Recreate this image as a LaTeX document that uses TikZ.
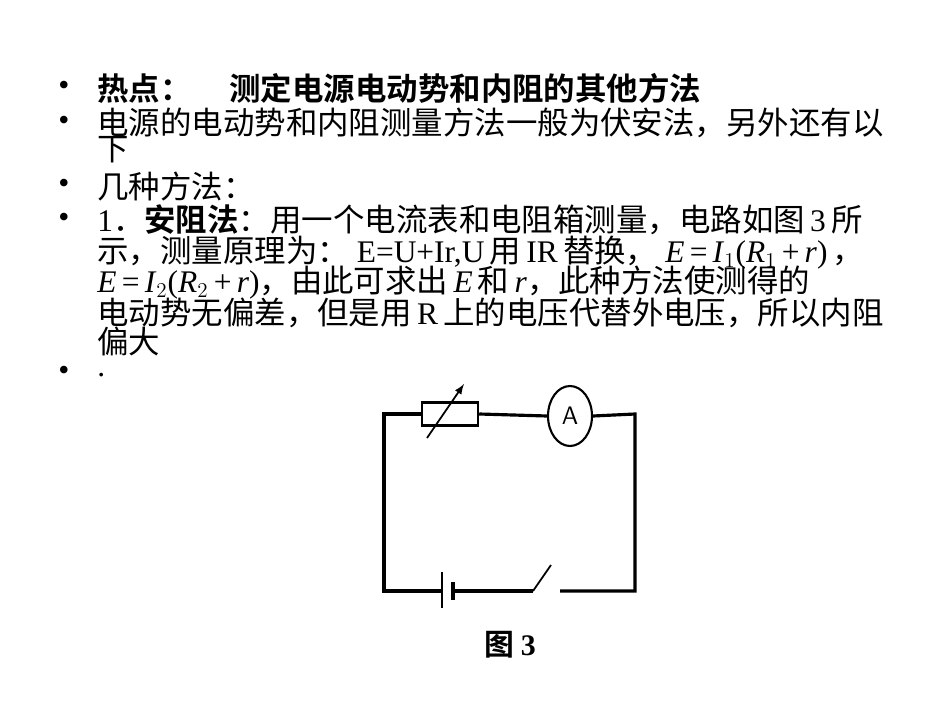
\documentclass[tikz,border=0pt]{standalone}
\usetikzlibrary{shapes.geometric}
\usepackage{fontspec}
\setmainfont{Liberation Serif}
\newfontfamily\cjk{Noto Sans CJK SC}
\newfontfamily\cjkb{Noto Sans CJK SC Bold}
\begin{document}
\begin{tikzpicture}[x=0.02cm,y=-0.02cm,
  txt/.style={anchor=west,inner sep=0,font=\fontsize{17.9}{19}\selectfont},
  bul/.style={inner sep=0,font=\fontsize{18}{20}\selectfont},
  cwire/.style={line width=1.8pt}]
\useasboundingbox (0,0) rectangle (950,713);
\foreach \y/\n in {88/b1,123/b2,186/b3,220/b4,373/b5} \node[bul] (\n) at (64,\y) {•};
\node[txt] (l1) at (97,88) {\cjkb 热点：\hspace{1.2em}测定电源电动势和内阻的其他方法};
\node[txt] (l2) at (97,123) {\cjk 电源的电动势和内阻测量方法一般为伏安法，另外还有以};
\node[txt] (l3) at (97,150) {\cjk 下};
\node[txt] (l4) at (97,186) {\cjk 几种方法：};
\node[txt] (l5) at (97,220) {1\cjk ．\cjkb 安阻法\cjk ：用一个电流表和电阻箱测量，电路如图\,\rmfamily 3\,\cjk 所};
\node[txt] (l6) at (97,253) {\cjk 示，测量原理为：\rmfamily\ E=U+Ir,U\,\cjk 用\,\rmfamily IR\,\cjk 替换，\rmfamily\ \textit{E}\,=\,\textit{I}$_1$(\textit{R}$_1$\,+\,\textit{r})\,\cjk ，};
\node[txt] (l7) at (97,283) {\textit{E}\,=\,\textit{I}$_2$(\textit{R}$_2$\,+\,\textit{r})\cjk ，由此可求出\,\rmfamily\textit{E}\,\cjk 和\,\rmfamily\textit{r}\cjk ，此种方法使测得的};
\node[txt] (l8) at (97,313) {\cjk 电动势无偏差，但是用\,\rmfamily R\,\cjk 上的电压代替外电压，所以内阻};
\node[txt] (l9) at (97,341) {\cjk 偏大};
\node[txt] (l10) at (97,375) {.};
% circuit
\coordinate (tl) at (384,414); \coordinate (tr) at (635,414);
\coordinate (bl) at (384,591); \coordinate (br) at (635,591);
\node[draw,line width=1.4pt,minimum width=1.12cm,minimum height=0.46cm,inner sep=0] (R) at (450,414) {};
\node[draw,ellipse,line width=1.2pt,minimum width=0.88cm,minimum height=1.2cm,inner sep=0,font=\sffamily\Large] (A) at (570,416) {A};
\coordinate (b1p) at (442,591); \coordinate (b2p) at (453,591);
\coordinate (s1) at (533,591); \coordinate (s2) at (560,591);
\draw[cwire] (R.west) -- (tl) -- (bl) -- (b1p);
\draw[cwire] (R.east) -- (A.west);
\draw[cwire] (A.east) -- (tr) -- (br) -- (s2);
\draw[cwire] (b2p) -- (s1);
\draw[line width=1pt] (s1) -- (551,565);
\draw[line width=1.2pt] (442,572) -- (442,608);
\draw[line width=2.6pt] (453,582) -- (453,600);
\draw[line width=1pt,-latex] (427,438) -- (464,384);
\node[font=\cjkb\fontsize{17}{20}\selectfont,inner sep=0] (cap) at (510,645) {图 \rmfamily\bfseries 3};
\end{tikzpicture}
\end{document}
